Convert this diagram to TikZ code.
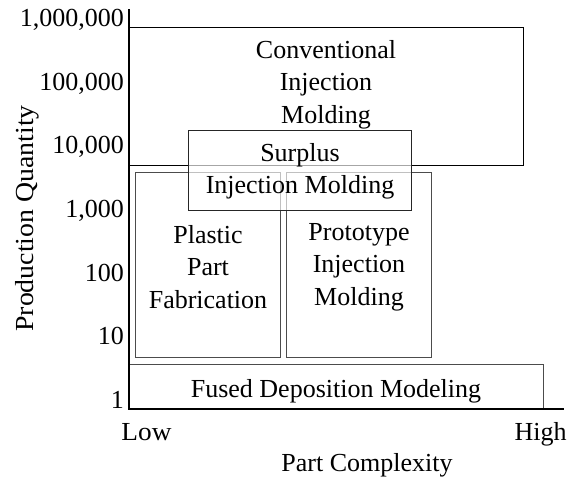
\documentclass[tikz,border=0pt]{standalone}
\usepackage{fontspec}
\setmainfont{Liberation Serif}
\begin{document}
\begin{tikzpicture}[x=1pt,y=-1pt,
  box/.style={draw, line width=1pt, inner sep=0pt, rectangle},
  graybox/.style={box, draw=black!70},
  lbl/.style={font=\fontsize{26}{32.5}\selectfont, align=center, inner sep=0pt},
  tick/.style={lbl, anchor=base east},
  axis/.style={line width=1.8pt, line cap=rect}]
\useasboundingbox (0,0) rectangle (570,481);
% boxes
\node[box, minimum width=394pt, minimum height=138pt] (conv) at (326,97) {};
\node[graybox, minimum width=145pt, minimum height=184pt] (plastic) at (208,265) {};
\node[graybox, minimum width=145pt, minimum height=184pt] (proto) at (359,265) {};
\node[box, draw=black!85, fill=white, fill opacity=0.65, minimum width=223pt, minimum height=80pt] (surplus) at (299.5,171) {};
\node[graybox, minimum width=414pt, minimum height=45pt] (fused) at (336,386.5) {};
% box texts
\node[lbl] (convt) at (326,84.5) {Conventional\\Injection\\Molding};
\node[lbl] (surplust) at (300,171.5) {Surplus\\Injection Molding};
\node[lbl] (plastict) at (208,267) {Plastic\\Part\\Fabrication};
\node[lbl] (protot) at (359,267) {Prototype\\Injection\\Molding};
\node[lbl, anchor=base] (fusedt) at (336,397) {Fused Deposition Modeling};
% axes
\coordinate (ytop) at (129,10);
\coordinate (orig) at (129,409);
\coordinate (xend) at (563,409);
\draw[axis] (ytop) -- (orig) -- (xend);
% tick labels
\node[tick] (t6) at (124,27) {1,000,000};
\node[tick] (t5) at (124,90.5) {100,000};
\node[tick] (t4) at (124,154) {10,000};
\node[tick] (t3) at (124,217.5) {1,000};
\node[tick] (t2) at (124,281) {100};
\node[tick] (t1) at (124,344.5) {10};
\node[tick] (t0) at (124,408) {1};
\node[lbl, anchor=base, xscale=1.05, transform shape] (low) at (146.5,440) {Low};
\node[lbl, anchor=base] (high) at (540.5,440) {High};
\node[lbl, anchor=base] (xlab) at (367,471) {Part Complexity};
\node[lbl, rotate=90, anchor=base, xscale=1.07, transform shape] (ylab) at (33,218.5) {Production Quantity};
\end{tikzpicture}
\end{document}
